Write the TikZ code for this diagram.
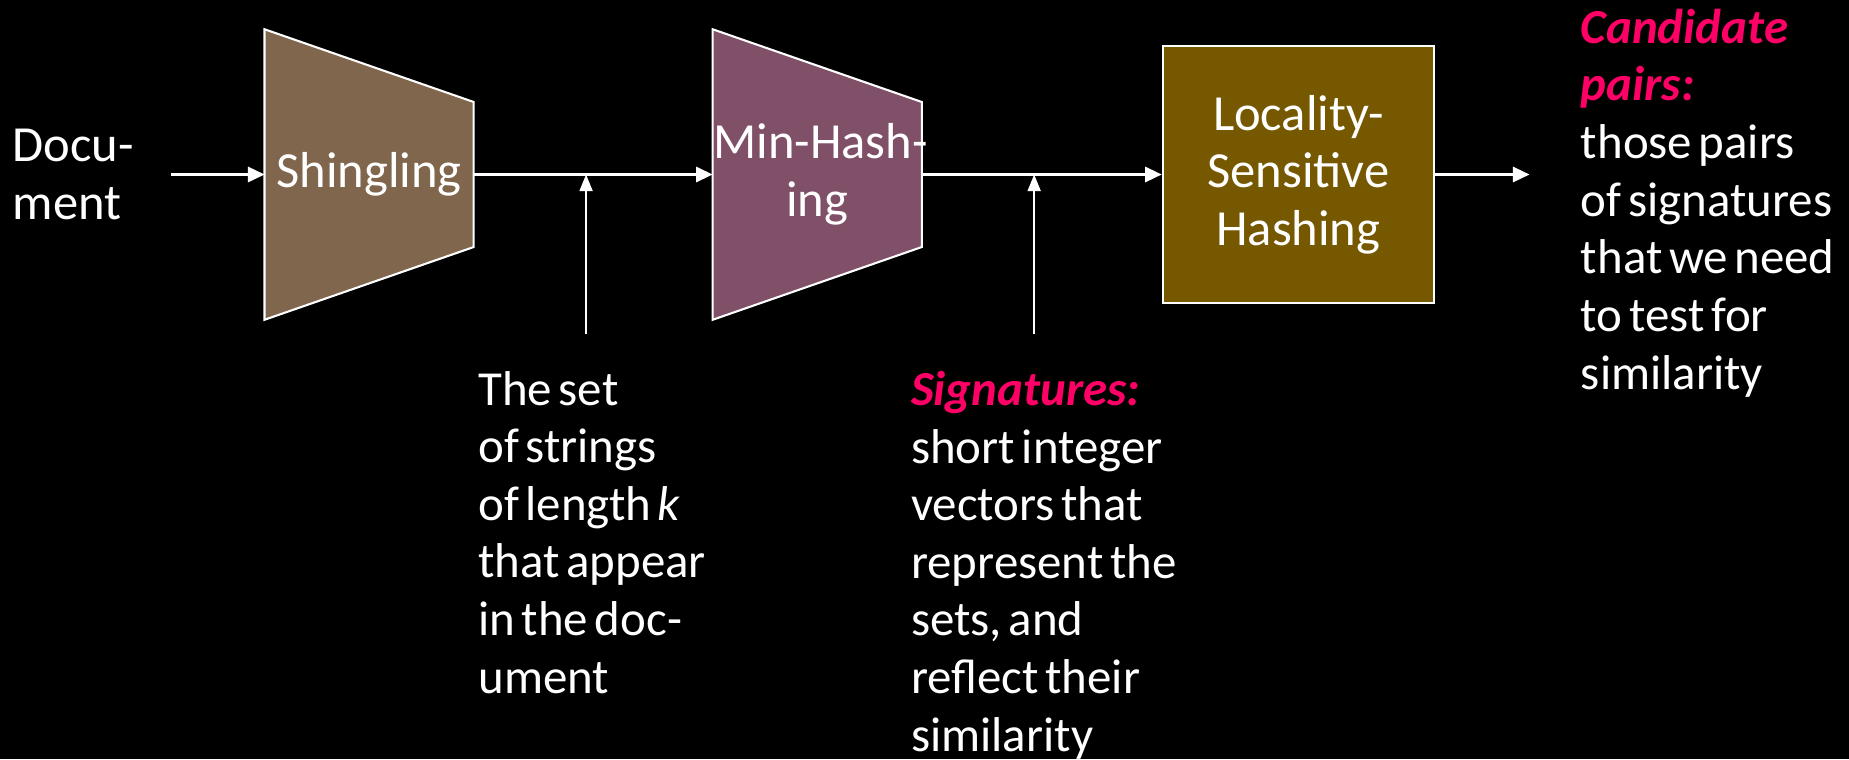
\documentclass[tikz,border=0pt]{standalone}
\usepackage{fontspec}
\setmainfont{Carlito}[WordSpace=0.6]
\usetikzlibrary{arrows.meta,positioning,calc,backgrounds}

\definecolor{shinglebrown}{RGB}{128,102,76}
\definecolor{minhashplum}{RGB}{128,80,104}
\definecolor{lshgold}{RGB}{118,88,0}
\definecolor{keypink}{RGB}{255,0,102}

\newcommand{\keytext}[1]{{\color{keypink}\bfseries\itshape #1}}

\tikzset{
  every node/.style={text=white, font=\fontsize{11.8}{13.9}\selectfont},
  flow/.style={draw=white, line width=0.5pt, -{Triangle[length=1.4mm,width=1.3mm]}},
  feed/.style={draw=white, line width=0.4pt, -{Triangle[length=1.4mm,width=1.1mm]}},
  stage/.style={inner sep=0pt, align=center, font=\fontsize{12.2}{13.9}\selectfont},
  note/.style={inner sep=0pt, align=left, anchor=north west},
}

\begin{document}
\begin{tikzpicture}[x=0.1mm,y=-0.1mm]
\useasboundingbox (0,0) rectangle (1568,644);

% the three stages
\node[stage, text width=17.6mm, minimum height=24.5mm] (shingle) at (313,148) {Shingling};
\node[stage, text width=17.6mm, minimum height=24.5mm] (minhash) at (693,148) {\mbox{Min-Hash-}\\ing};
\node[stage, draw=white, fill=lshgold, line width=0.5pt, minimum width=23mm, minimum height=21.8mm] (lsh) at (1101,148) {Locality-\\Sensitive\\Hashing};

\begin{scope}[on background layer]
\fill[black] (0,0) rectangle (1568,644);
\filldraw[fill=shinglebrown, draw=white, line width=0.5pt] (shingle.north west) -- ($(shingle.east)+(0,-61.5)$) -- ($(shingle.east)+(0,61.5)$) -- (shingle.south west) -- cycle;
\filldraw[fill=minhashplum, draw=white, line width=0.5pt] (minhash.north west) -- ($(minhash.east)+(0,-61.5)$) -- ($(minhash.east)+(0,61.5)$) -- (minhash.south west) -- cycle;
\end{scope}

% texts
\node[stage, align=left, anchor=west] (doc) at (10,148) {Docu-\\ment};
\node[note] (shingles) at (405,314) {The set\\of strings\\of length \textit{k}\\that appear\\in the doc-\\ument};
\node[note] (sigs) at (772,314) {\keytext{Signatures:}\\short integer\\vectors that\\represent the\\sets, and\\reflect their\\similarity};
\node[note] (pairs) at (1340,7) {\keytext{Candidate}\\\keytext{pairs:}\\those pairs\\of signatures\\that we need\\to test for\\similarity};

% connectors
\coordinate (docout) at (145,148);
\coordinate (pairsin) at (1297,148);
\coordinate (setsfoot) at (497,283);
\coordinate (sigsfoot) at (877,283);
\draw[flow] (docout) -- (shingle.west);
\draw[flow] (shingle.east) -- (minhash.west);
\draw[flow] (minhash.east) -- (lsh.west);
\draw[flow] (lsh.east) -- (pairsin);
\draw[feed] (setsfoot) -- (setsfoot |- shingle.east);
\draw[feed] (sigsfoot) -- (sigsfoot |- minhash.east);
\end{tikzpicture}
\end{document}
